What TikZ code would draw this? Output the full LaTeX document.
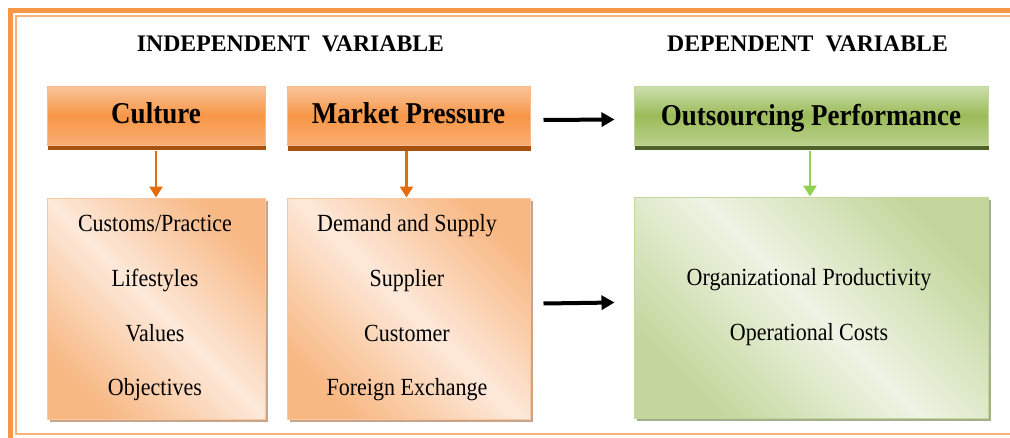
\documentclass[tikz,border=0pt]{standalone}
\usepackage{fontspec}
\setmainfont{Liberation Serif}
\usetikzlibrary{arrows.meta,shadows}
\definecolor{frameOuter}{HTML}{F79646}
\definecolor{frameInner}{HTML}{FAB27C}
\definecolor{hdrTop}{HTML}{F9C49A}
\definecolor{hdrMid}{HTML}{F79646}
\definecolor{hdrBot}{HTML}{F9AE74}
\definecolor{hdrBorder}{HTML}{F9B88A}
\definecolor{hdrShadow}{HTML}{A8520F}
\definecolor{arrowOrange}{HTML}{E46C0A}
\definecolor{lowDark}{HTML}{F8B884}
\definecolor{lowLight}{HTML}{FDE9DA}
\definecolor{lowBorder}{HTML}{FAC8A0}
\definecolor{lowShadow}{HTML}{C8A48A}
\definecolor{grTop}{HTML}{CCDFAE}
\definecolor{grMid}{HTML}{9BBB59}
\definecolor{grBot}{HTML}{B9D08C}
\definecolor{grBorder}{HTML}{C3D69B}
\definecolor{grShadow}{HTML}{4F6228}
\definecolor{greenArrow}{HTML}{92D050}
\definecolor{lowGrDark}{HTML}{C3D69B}
\definecolor{lowGrLight}{HTML}{EEF4E4}
\definecolor{lowGrShadow}{HTML}{A3AE8C}
\newcommand\vs[1]{\scalebox{1}[1.12]{#1}}
\begin{document}
\begin{tikzpicture}[x=1pt,y=-1pt,
  heading/.style={anchor=base, inner sep=0pt, font=\fontsize{23.75}{26}\selectfont\bfseries},
  hdrbox/.style={line width=1pt, minimum height=59pt, inner sep=0pt,
     font=\fontsize{27}{30}\selectfont\bfseries, text height=20pt, text depth=0pt},
  hdrO/.style={hdrbox, text depth=5pt, draw=hdrBorder, shading=axis, top color=hdrTop, bottom color=hdrBot, middle color=hdrMid,
     general shadow={fill=hdrShadow, shadow xshift=1pt, shadow yshift=-5pt}},
  hdrG/.style={hdrbox, draw=grBorder, shading=axis, top color=grTop, bottom color=grBot, middle color=grMid,
     general shadow={fill=grShadow, shadow xshift=1pt, shadow yshift=-5pt}},
  lowbox/.style={line width=1pt, minimum height=221pt, inner sep=0pt},
  lowO/.style={lowbox, draw=lowBorder, shading=axis, top color=lowDark, bottom color=lowDark, middle color=lowLight, shading angle=-45,
     general shadow={fill=lowShadow, shadow xshift=3pt, shadow yshift=-3pt}},
  lowG/.style={lowbox, draw=grBorder, shading=axis, top color=lowGrDark, bottom color=lowGrDark, middle color=lowGrLight, shading angle=-45,
     general shadow={fill=lowGrShadow, shadow xshift=3pt, shadow yshift=-3pt}},
  body/.style={anchor=base, inner sep=0pt, font=\fontsize{22}{26}\selectfont},
  oarrow/.style={draw=arrowOrange, line width=2.5pt, -{Triangle[length=11pt,width=13pt]}},
  garrow/.style={draw=greenArrow, line width=2.5pt, -{Triangle[length=11pt,width=13pt]}},
  barrow/.style={draw=black, line width=4pt, -{Triangle[length=13pt,width=14pt]}}
]
\useasboundingbox (0,0) rectangle (1010,437);
\clip (0,0) rectangle (1010,437);
\fill[white] (0,0) rectangle (1010,437);
% frame
\draw[frameOuter, line width=5pt] (10.5,460) -- (10.5,10.5) -- (1030,10.5);
\draw[frameInner, line width=1.5pt] (1030,16) -- (16,16) -- (16,434) -- (1030,434);
% headings
\node[heading] (iv) at (290.5,51) {INDEPENDENT\hspace{12pt}VARIABLE};
\node[heading] (dv) at (807.5,51) {DEPENDENT\hspace{12pt}VARIABLE};
% header boxes
\node[hdrO, minimum width=218pt] (cul) at (156,115.5) {\vs{Culture}};
\node[hdrO, minimum width=243pt] (mkt) at (408.5,116) {\vs{Market Pressure}};
\node[hdrG, minimum width=354pt] (out) at (811,115.5) {\vs{Outsourcing Performance}};
% lower boxes
\node[lowO, minimum width=218pt] (culb) at (156,308.5) {};
\node[lowO, minimum width=243pt] (mktb) at (408.5,308.5) {};
\node[lowG, minimum width=354pt] (outb) at (811,307.5) {};
% texts
\node[body] (c1) at (155,231.5) {\vs{Customs/Practice}};
\node[body] (c2) at (155,286.5) {\vs{Lifestyles}};
\node[body] (c3) at (155,341.5) {\vs{Values}};
\node[body] (c4) at (155,395) {\vs{Objectives}};
\node[body] (m1) at (407,231.5) {\vs{Demand and Supply}};
\node[body] (m2) at (407,286.5) {\vs{Supplier}};
\node[body] (m3) at (407,341.5) {\vs{Customer}};
\node[body] (m4) at (407,395) {\vs{Foreign Exchange}};
\node[body] (o1) at (809,285) {\vs{Organizational Productivity}};
\node[body] (o2) at (809,340) {\vs{Operational Costs}};
% arrows
\draw[oarrow] ([yshift=-5pt]cul.south) -- (culb.north);
\draw[oarrow] ([xshift=-2pt,yshift=-5pt]mkt.south) -- ([xshift=-2pt]mktb.north);
\draw[garrow] ([xshift=-1pt,yshift=-5pt]out.south) -- ([xshift=-1pt]outb.north);
\draw[barrow] ([shift={(13pt,-4pt)}]mkt.east) -- ([shift={(-19pt,-4pt)}]out.west);
\draw[barrow] ([shift={(13pt,5pt)}]mktb.east) -- ([shift={(-19pt,5pt)}]outb.west);
\end{tikzpicture}
\end{document}
